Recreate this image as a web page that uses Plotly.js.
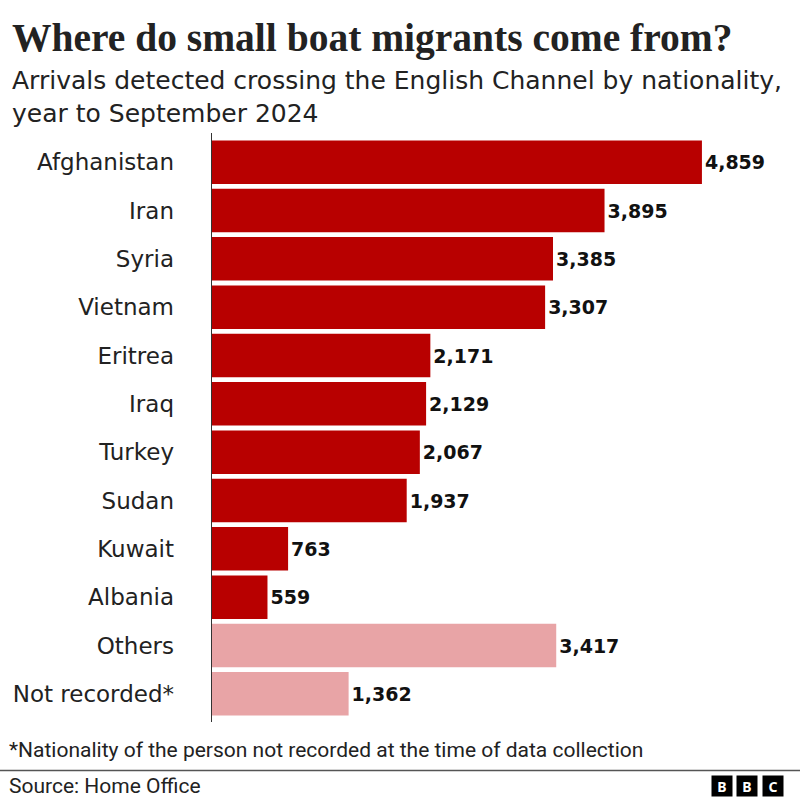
<!DOCTYPE html>
<html><head><meta charset="utf-8">
<script src="https://cdn.plot.ly/plotly-3.0.1.min.js"></script>
<style>body{margin:0;background:#fff}#c{width:800px;height:800px}</style>
</head><body><div id="c"></div>
<script>
const countries = ["Afghanistan","Iran","Syria","Vietnam","Eritrea","Iraq","Turkey","Sudan","Kuwait","Albania","Others","Not recorded*"];
const arrivals = [4859,3895,3385,3307,2171,2129,2067,1937,763,559,3417,1362];
const barColors = ["#b80000","#b80000","#b80000","#b80000","#b80000","#b80000","#b80000","#b80000","#b80000","#b80000","#e8a4a6","#e8a4a6"];
const valueLabels = arrivals.map(v => v.toLocaleString("en-GB"));

const L = 211, T = 138, W = 586, H = 580;
const px = x => (x - L) / W;
const py = y => (T + H - y) / H;
const sans = "DejaVu Sans, sans-serif";

const trace = {
  type: "bar", orientation: "h",
  y: countries, x: arrivals,
  marker: {color: barColors, line: {width: 0}},
  text: valueLabels, textposition: "outside", cliponaxis: false,
  textfont: {family: sans, size: 19, color: "#111", weight: 700},
  hoverinfo: "none"
};

const bbcBox = (x, ch) => ({
  xref: "paper", yref: "paper", x: px(x), y: py(786), xanchor: "center", yanchor: "middle",
  text: "<b>" + ch + "</b>", showarrow: false, bgcolor: "#000", width: 20, height: 20,
  font: {family: "Noto Sans, sans-serif", size: 14, color: "#fff"}, borderpad: 0
});

const layout = {
  width: 800, height: 800,
  margin: {l: L, r: 800 - L - W, t: T, b: 800 - T - H},
  paper_bgcolor: "#fff", plot_bgcolor: "#fff",
  showlegend: false, bargap: 0.1,
  xaxis: {range: [0, 5800], showgrid: false, zeroline: false, showticklabels: false, showline: false, fixedrange: true},
  yaxis: {autorange: "reversed", showgrid: false, zeroline: false, showline: false, ticks: "",
          ticklabelstandoff: 36, tickfont: {family: sans, size: 23, color: "#222"}},
  shapes: [
    {type: "line", xref: "x", yref: "paper", x0: 0, x1: 0, y0: py(722), y1: py(133), line: {color: "#333", width: 2}},
    {type: "line", xref: "paper", yref: "paper", x0: px(0), x1: px(800), y0: py(770.5), y1: py(770.5), line: {color: "#555", width: 1.5}}
  ],
  annotations: [
    {xref: "paper", yref: "paper", x: px(10), y: py(38), xanchor: "left", yanchor: "middle", showarrow: false,
     text: "<b>Where do small boat migrants come from?</b>", font: {family: "Liberation Serif, serif", size: 39.5, color: "#222"}},
    {xref: "paper", yref: "paper", x: px(10), y: py(97), xanchor: "left", yanchor: "middle", showarrow: false, align: "left",
     text: "Arrivals detected crossing the English Channel by nationality,<br>year to September 2024", font: {family: sans, size: 25, color: "#222"}},
    {xref: "paper", yref: "paper", x: px(7), y: py(750), xanchor: "left", yanchor: "middle", showarrow: false,
     text: "*Nationality of the person not recorded at the time of data collection", font: {family: "Roboto, sans-serif", size: 21, color: "#222"}},
    {xref: "paper", yref: "paper", x: px(7), y: py(786), xanchor: "left", yanchor: "middle", showarrow: false,
     text: "Source: Home Office", font: {family: "Roboto, sans-serif", size: 21, color: "#222"}},
    bbcBox(722, "B"), bbcBox(747, "B"), bbcBox(773, "C")
  ]
};

Plotly.newPlot("c", [trace], layout, {displayModeBar: false, staticPlot: true});
</script></body></html>
